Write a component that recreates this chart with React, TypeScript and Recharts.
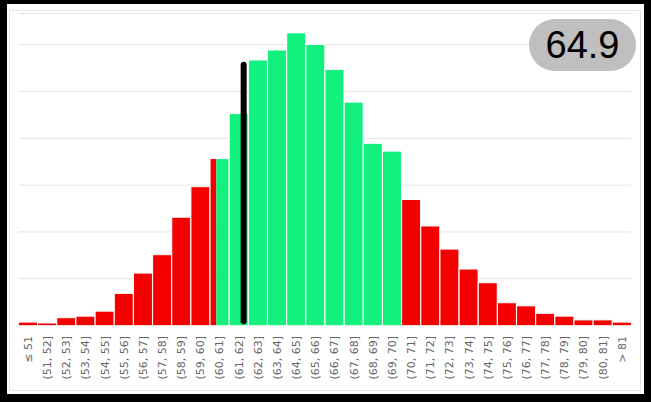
import React from 'react';
import { BarChart, Bar, XAxis, YAxis, CartesianGrid } from 'recharts';

const categories = [
  '≤ 51', '(51, 52]', '(52, 53]', '(53, 54]', '(54, 55]', '(55, 56]', '(56, 57]', '(57, 58]',
  '(58, 59]', '(59, 60]', '(60, 61]', '(61, 62]', '(62, 63]', '(63, 64]', '(64, 65]', '(65, 66]',
  '(66, 67]', '(67, 68]', '(68, 69]', '(69, 70]', '(70, 71]', '(71, 72]', '(72, 73]', '(73, 74]',
  '(74, 75]', '(75, 76]', '(76, 77]', '(77, 78]', '(78, 79]', '(79, 80]', '(80, 81]', '> 81',
];
const binLow = [
  50, 51, 52, 53, 54, 55, 56, 57, 58, 59, 60, 61, 62, 63, 64, 65,
  66, 67, 68, 69, 70, 71, 72, 73, 74, 75, 76, 77, 78, 79, 80, 81,
];
const values = [
  0.11, 0.08, 0.25, 0.30, 0.46, 1.03, 1.68, 2.27, 3.47, 4.45, 5.35, 6.79, 8.51, 8.83, 9.38, 9.01,
  8.21, 7.16, 5.84, 5.59, 4.04, 3.19, 2.45, 1.81, 1.37, 0.73, 0.63, 0.39, 0.30, 0.18, 0.18, 0.11,
];
const yTicks = [0, 1.5, 3, 4.5, 6, 7.5, 9];
const GREEN_FROM = 60.33;
const GREEN_TO = 70;
const markerX = 61.76;
const markerBottom = 0.14;
const markerTop = 8.36;
const badgeText = '64.9';

const RED = '#f40000';
const GREEN = '#12f07e';

const data = categories.map((c, i) => ({ name: c, value: values[i], lo: binLow[i] }));

const BarShape = (props: any) => {
  const { x, y, width, height, payload } = props;
  if (width == null || height == null) return null;
  const lo = payload.lo;
  const hi = lo + 1;
  let redFrac = 1;
  if (hi <= GREEN_FROM || lo >= GREEN_TO) redFrac = 1;
  else if (lo >= GREEN_FROM && hi <= GREEN_TO) redFrac = 0;
  else if (lo < GREEN_FROM) redFrac = (GREEN_FROM - lo) / (hi - lo);
  else redFrac = 1 - (GREEN_TO - lo) / (hi - lo);
  const rw = width * redFrac;
  let marker = null;
  if (markerX >= lo && markerX < hi && payload.value > 0) {
    const pxPerUnit = height / payload.value;
    const base = y + height;
    const mx = x + width * ((markerX - lo) / (hi - lo));
    marker = (
      <line
        x1={mx}
        x2={mx}
        y1={base - pxPerUnit * markerBottom}
        y2={base - pxPerUnit * markerTop}
        stroke="#000000"
        strokeWidth={6}
        strokeLinecap="round"
      />
    );
  }
  return (
    <g>
      {rw > 0 && <rect x={x} y={y} width={rw} height={height} fill={RED} />}
      {rw < width && <rect x={x + rw} y={y} width={width - rw} height={height} fill={GREEN} />}
      <rect x={x} y={y} width={width} height={height} fill="none" stroke="#ffffff" strokeWidth={1} />
      {marker}
    </g>
  );
};

const Tick = (props: any) => {
  const { x, y, payload } = props;
  return (
    <text
      x={x}
      y={y}
      transform={`rotate(-90 ${x} ${y})`}
      textAnchor="end"
      dy="0.35em"
      fontSize={11}
      fontFamily="'DejaVu Sans', Verdana, sans-serif"
      fill="#666666"
    >
      {payload.value}
    </text>
  );
};

export default function App() {
  return (
    <div style={{ position: 'absolute', left: 0, top: 0, width: 651, height: 402, background: '#fff' }}>
      <BarChart
        width={651}
        height={402}
        data={data}
        margin={{ top: 13.5, right: 19.5, left: 18.5, bottom: 0 }}
        barCategoryGap={0}
      >
        <CartesianGrid vertical={false} stroke="#e3e3e3" strokeWidth={1} />
        <XAxis
          dataKey="name"
          interval={0}
          height={76.5}
          axisLine={false}
          tickLine={false}
          tickSize={0}
          tickMargin={10.5}
          tick={<Tick />}
        />
        <YAxis hide domain={[0, 10]} ticks={yTicks} allowDataOverflow />
        <Bar dataKey="value" isAnimationActive={false} shape={BarShape} />
      </BarChart>
      <div
        style={{
          position: 'absolute',
          left: 529,
          top: 19,
          width: 107,
          height: 52,
          borderRadius: 26,
          background: '#bfbfbf',
          color: '#000',
          fontFamily: "'Liberation Sans', Arial, sans-serif",
          fontSize: 38,
          lineHeight: '52px',
          textAlign: 'center',
        }}
      >
        {badgeText}
      </div>
      <div
        style={{
          position: 'absolute',
          left: 9,
          top: 10,
          width: 632,
          height: 381,
          boxSizing: 'border-box',
          border: '1px solid #e6e6e6',
          pointerEvents: 'none',
        }}
      />
      <div
        style={{
          position: 'absolute',
          left: 0,
          top: 0,
          width: 651,
          height: 402,
          boxSizing: 'border-box',
          borderStyle: 'solid',
          borderColor: '#000',
          borderTopWidth: 4,
          borderLeftWidth: 7,
          borderRightWidth: 7,
          borderBottomWidth: 8,
          pointerEvents: 'none',
        }}
      />
    </div>
  );
}
